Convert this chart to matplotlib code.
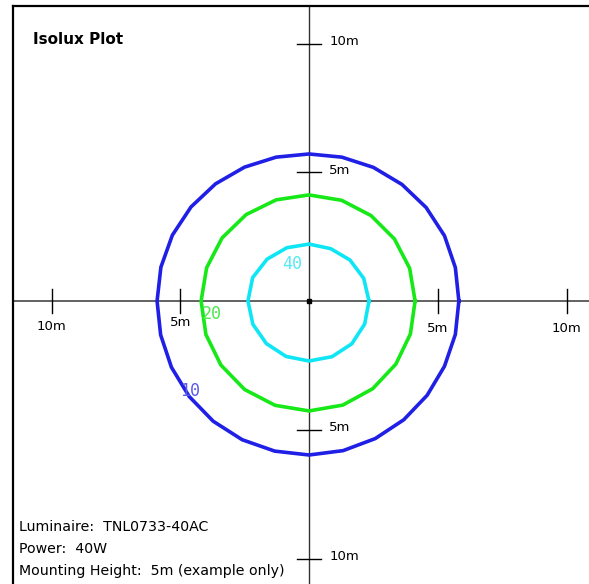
import numpy as np
import matplotlib.pyplot as plt

# contour radii (m) at evenly spaced angles, counter-clockwise from +x
blue_r = [5.82, 5.83, 5.84, 5.82, 5.79, 5.76, 5.73, 5.71, 5.73, 5.77,
          5.82, 5.86, 5.89, 5.90, 5.90, 5.91, 5.93, 5.95, 5.97, 5.98,
          5.98, 5.98, 5.96, 5.93, 5.90, 5.87, 5.84, 5.83]
green_r = [4.12, 4.11, 4.10, 4.10, 4.11, 4.12, 4.13, 4.15, 4.17, 4.18,
           4.19, 4.21, 4.23, 4.25, 4.26, 4.27, 4.25, 4.21, 4.17, 4.14]
cyan_r = [2.33, 2.30, 2.25, 2.20, 2.21, 2.24, 2.30, 2.37,
          2.37, 2.36, 2.34, 2.33, 2.33, 2.34, 2.35, 2.34]
levels = ['10', '20', '40']
label_pos = [(-5.0, -3.5), (-4.15, -0.5), (-1.05, 1.45)]

ticks = [-10, -5, 5, 10]
info = ['Luminaire:  TNL0733-40AC', 'Power:  40W', 'Mounting Height:  5m (example only)']

fig = plt.figure(figsize=(5.89, 5.84), dpi=100)
ax = fig.add_axes([0, 0, 1, 1])
ppm = 25.75
ax.set_xlim(-309 / ppm, 280 / ppm)
ax.set_ylim(-283 / ppm, 301 / ppm)
ax.axis('off')

# frame (top and left only)
x0 = -296 / ppm
ytop = 295 / ppm
ax.plot([x0, 300 / ppm], [ytop, ytop], color='black', lw=1.6)
ax.plot([x0, x0], [ytop, -300 / ppm], color='black', lw=1.6)

# crosshair
ax.plot([x0, 300 / ppm], [0, 0], color='#555555', lw=1.3, zorder=1)
ax.plot([0, 0], [ytop, -300 / ppm], color='#333333', lw=1.0, zorder=1)
ax.plot([0], [0], marker='s', color='black', ms=3, zorder=5)

tl = 12 / ppm
xlab_y = {-10: -26 / ppm, -5: -22 / ppm, 5: -27 / ppm, 10: -27 / ppm}
for t in ticks:
    ax.plot([t, t], [-tl, tl], color='black', lw=1.0)
    ax.plot([-tl, tl], [t, t], color='black', lw=1.0)
    ax.text(t, xlab_y[t], '%dm' % abs(t), ha='center', va='center',
            fontsize=9.5, family='DejaVu Sans')
    ax.text(0.78, t + 0.08, '%dm' % abs(t), ha='left', va='center', fontsize=9.5,
            family='DejaVu Sans')


def poly(radii):
    a = np.linspace(0, 2 * np.pi, len(radii), endpoint=False)
    r = np.array(radii + radii[:1])
    a = np.append(a, 2 * np.pi)
    return r * np.cos(a), r * np.sin(a)


for radii, c in [(blue_r, '#1f1fe6'), (green_r, '#17e817'), (cyan_r, '#0fe6f5')]:
    x, y = poly(radii)
    ax.plot(x, y, color=c, lw=2.6, zorder=3)

lab_colors = ['#5a5aec', '#4ce84c', '#55eaf5']
for s, (lx, ly), c in zip(levels, label_pos, lab_colors):
    ax.text(lx, ly, s, color=c, fontsize=12, family='DejaVu Sans Mono',
            ha='left', va='center', zorder=4)

ax.text(-276 / ppm, 262 / ppm, 'Isolux Plot', fontsize=11, fontweight='bold',
        ha='left', va='center')
for i, line in enumerate(info):
    ax.text(-290 / ppm, (-226 - 22 * i) / ppm, line, fontsize=10.2, ha='left', va='center')

fig.savefig('out.png', dpi=100)
